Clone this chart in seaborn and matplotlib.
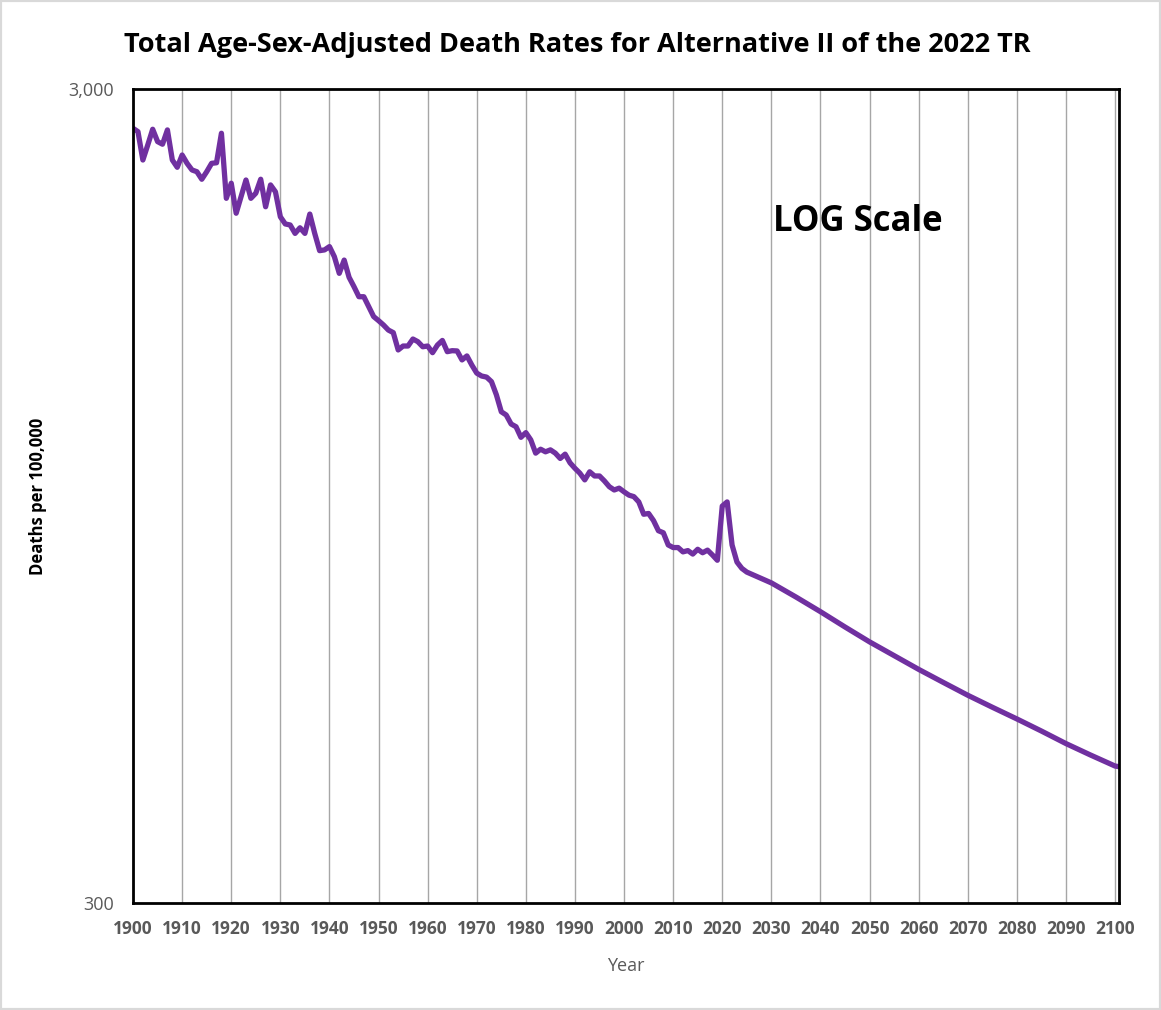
import pandas as pd
import matplotlib.pyplot as plt
import seaborn as sns
from matplotlib.ticker import FixedLocator, NullLocator

sns.set_style("white")
plt.rcParams['font.family'] = ['Open Sans', 'DejaVu Sans']

# Historical rates 1900-2023 (deaths per 100,000)
hist_years = list(range(1900, 2024))
hist_rates = [
    2684, 2659, 2454, 2561, 2677, 2585, 2566, 2672, 2454, 2404,   # 1900s
    2489, 2431, 2386, 2374, 2324, 2374, 2431, 2435, 2647, 2202,   # 1910s
    2298, 2111, 2212, 2319, 2202, 2234, 2324, 2150, 2287, 2243,   # 1920s
    2090, 2048, 2042, 1994, 2026, 1994, 2106, 1994, 1899, 1903,   # 1930s
    1921, 1867, 1781, 1849, 1761, 1715, 1667, 1667, 1621, 1576,   # 1940s
    1558, 1539, 1517, 1506, 1434, 1450, 1450, 1479, 1468, 1447,   # 1950s
    1450, 1423, 1454, 1473, 1427, 1431, 1430, 1394, 1410, 1374,   # 1960s
    1343, 1332, 1328, 1311, 1263, 1204, 1193, 1163, 1154, 1120,   # 1970s
    1135, 1112, 1071, 1083, 1075, 1081, 1071, 1055, 1068, 1042,   # 1980s
    1026, 1012, 993, 1016, 1004, 1004, 990, 974, 965, 970,        # 1990s
    960, 951, 947, 933, 901, 903, 885, 860, 855, 826,             # 2000s
    820, 820, 810, 813, 805, 816, 808, 814, 803, 791,             # 2010s
    922, 933, 826, 787,                                           # 2020-2023
]

# Projected rates (Alternative II)
proj_years = [2024, 2025, 2030, 2035, 2040, 2045, 2050, 2055, 2060, 2065,
              2070, 2075, 2080, 2085, 2090, 2095, 2100, 2101]
proj_rates = [773, 765, 742, 713, 684, 655, 628, 604, 581, 560,
              540, 522, 505, 488, 471, 456, 442, 441]

df = pd.DataFrame({'Year': hist_years + proj_years,
                   'Rate': hist_rates + proj_rates})

fig = plt.figure(figsize=(11.61, 10.10), dpi=100)
ax = fig.add_axes([0.1146, 0.1059, 0.8492, 0.806])

sns.lineplot(data=df, x='Year', y='Rate', ax=ax, color='#7030A0',
             linewidth=3.8, solid_joinstyle='round')

ax.set_yscale('log')
ax.set_ylim(300, 3000)
ax.set_xlim(1900, 2100.8)
ax.yaxis.set_major_locator(FixedLocator([300, 3000]))
ax.yaxis.set_minor_locator(NullLocator())
ax.set_yticklabels(['300', '3,000'])
ax.set_xticks(range(1900, 2101, 10))
ax.tick_params(axis='y', length=0, labelsize=13, labelcolor='#595959', pad=14)
ax.tick_params(axis='x', direction='out', length=6, width=1.5, color='black',
               labelsize=12.5, labelcolor='#595959', pad=6)
for lab in ax.get_xticklabels():
    lab.set_fontweight('bold')

ax.grid(axis='x', color='#a6a6a6', linewidth=1)
ax.grid(axis='y', visible=False)
for sp in ax.spines.values():
    sp.set_color('black')
    sp.set_linewidth(2)

ax.set_xlabel('Year', fontsize=13, color='#595959', labelpad=14)
ax.set_ylabel('Deaths per 100,000', fontsize=12, fontweight='bold',
              color='black', labelpad=15)

ax.text(0.649, 0.837, 'LOG Scale', transform=ax.transAxes, fontsize=25,
        fontweight='bold', va='center', ha='left', color='black')

fig.text(0.497, 0.955, 'Total Age-Sex-Adjusted Death Rates for Alternative II of the 2022 TR',
         ha='center', va='center', fontsize=19.5, fontweight='bold', color='black')

fig.patches.append(plt.Rectangle((0, 0), 1, 1, transform=fig.transFigure,
                                 fill=False, edgecolor='#d9d9d9', linewidth=3))

fig.savefig('out.png', dpi=100)
